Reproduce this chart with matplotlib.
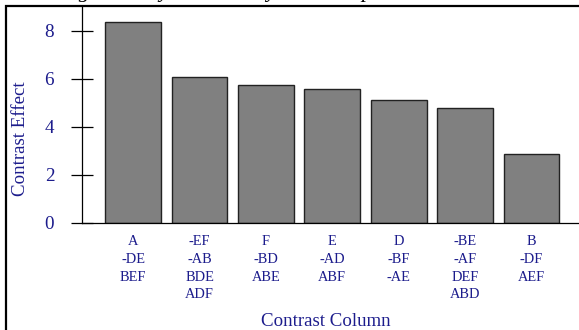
import matplotlib
matplotlib.use("Agg")
import matplotlib.pyplot as plt
from matplotlib.patches import Rectangle

plt.rcParams['font.family'] = ['Liberation Serif', 'DejaVu Serif']

# contrast columns and their aliased effects
contrast_aliases = [
    ["A", "-DE", "BEF"],
    ["-EF", "-AB", "BDE", "ADF"],
    ["F", "-BD", "ABE"],
    ["E", "-AD", "ABF"],
    ["D", "-BF", "-AE"],
    ["-BE", "-AF", "DEF", "ABD"],
    ["B", "-DF", "AEF"],
]
contrast_effects = [8.36, 6.07, 5.72, 5.57, 5.10, 4.77, 2.85]
title_text = "Figure 4: Systematically Varied Operator Contrasts"

text_blue = '#1c1c8c'
W, H = 579, 330

fig = plt.figure(figsize=(W / 100, H / 100), dpi=100)
ax = fig.add_axes([82.3 / W, 107.3 / H, 500 / W, 216.7 / H])

xpos = list(range(len(contrast_effects)))
ax.bar(xpos, contrast_effects, width=0.84, color='#808080',
       edgecolor='#222222', linewidth=1.0)

ax.set_xlim(-0.767, 6.767)
ax.set_ylim(0, 9.03)
ax.set_yticks([0, 2, 4, 6, 8])
ax.set_xticks(xpos)
ax.set_xticklabels(["\n".join(a) for a in contrast_aliases],
                   fontsize=10.4, color=text_blue, linespacing=1.47)
ax.tick_params(axis='x', length=0, pad=9)
ax.tick_params(axis='y', direction='inout', length=16.5, width=0.9,
               labelsize=13.8, labelcolor=text_blue, pad=12)

for side in ['top', 'right']:
    ax.spines[side].set_visible(False)
for side in ['left', 'bottom']:
    ax.spines[side].set_linewidth(0.9)

fig.text(21 / W, 1 - 138.5 / H, "Contrast Effect", rotation=90,
         ha='center', va='center', fontsize=13.6, color=text_blue)
fig.text(326 / W, 1 - 326 / H, "Contrast Column", ha='center',
         va='baseline', fontsize=13.6, color=text_blue)

# caption sits above the frame and is mostly cut off
fig.text(290 / W, 1 + 3 / H, title_text, ha='center', va='baseline',
         fontsize=16, style='italic', color='black')

# outer frame around the figure body
fig.add_artist(Rectangle((6 / W, -0.1), 1.2, 1.1 - 6 / H, fill=False,
                         linewidth=1.6, edgecolor='black',
                         transform=fig.transFigure, clip_on=False))

fig.savefig("out.png", dpi=100)
